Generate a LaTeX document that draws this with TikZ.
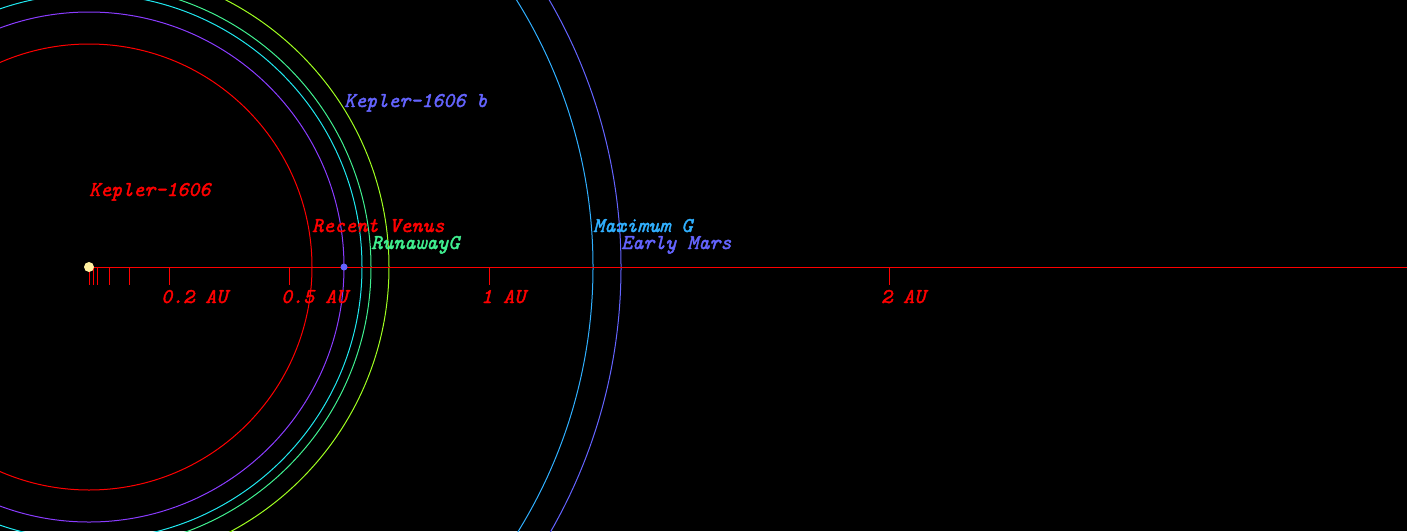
\documentclass[tikz,border=0pt]{standalone}
\usepackage{fontspec}
\newfontfamily\lblfont{lmmono10-regular.otf}[ItalicFont=lmmono10-italic.otf, ItalicFeatures={FakeBold=1.8}]
\definecolor{cRed}{HTML}{FF0000}
\definecolor{cPurple}{HTML}{8A3CFF}
\definecolor{cCyan}{HTML}{20E8F0}
\definecolor{cGreen}{HTML}{40F090}
\definecolor{cLime}{HTML}{A0FF20}
\definecolor{cMaxG}{HTML}{30B0FF}
\definecolor{cMars}{HTML}{6464FF}
\definecolor{cStar}{HTML}{FFF0A0}
\begin{document}
\begin{tikzpicture}[x=1pt,y=-1pt,
  lbl/.style={anchor=base west, inner sep=0pt, text height=0.62em, text depth=0pt, font=\lblfont\itshape\fontsize{21}{21}\selectfont},
  orbit/.style={line width=1pt},
  tick/.style={draw=cRed, line width=1pt},
  axislbl/.style={lbl, text=cRed}]
\useasboundingbox (0,0) rectangle (1407,531);
\fill[black] (0,0) rectangle (1407,531);
\begin{scope}
  \clip (0,0) rectangle (1407,531);
  \draw[orbit, cRed]    (89,267) circle[radius=223pt];
  \draw[orbit, cPurple] (89,267) circle[radius=255pt];
  \draw[orbit, cCyan]   (89,267) circle[radius=273pt];
  \draw[orbit, cGreen]  (89,267) circle[radius=282pt];
  \draw[orbit, cLime]   (89,267) circle[radius=300pt];
  \draw[orbit, cMaxG]   (89,267) circle[radius=504pt];
  \draw[orbit, cMars]   (89,267) circle[radius=532pt];
\end{scope}
% axis
\coordinate (axend) at (1407,267);
\coordinate (t0) at (89,267);
\draw[cRed, line width=0.8pt] (t0) -- (axend);
\foreach \x/\n in {89/a,93/b,97/c,109/d,129/e,169/f,289/g,489/h,889/i} {
  \coordinate (tk\n) at (\x,267);
  \coordinate (tb\n) at (\x,285);
  \draw[tick] (tk\n) -- (tb\n);
}
\node[axislbl] (l02) at (161,303) {0.2 AU};
\node[axislbl] (l05) at (281,303) {0.5 AU};
\node[axislbl] (l1) at (481,303) {1 AU};
\node[axislbl] (l2) at (881,303) {2 AU};
% star and planet
\node[circle, fill=cStar, inner sep=0pt, minimum size=10pt] (star) at (89,267) {};
\node[circle, fill=cMars, inner sep=0pt, minimum size=7pt] (planet) at (344,267) {};
% labels
\node[lbl, text=cRed] (starlbl) at (89,196) {Kepler-1606};
\node[lbl, text=cMars] (planetlbl) at (344,107) {Kepler-1606 b};
\node[lbl, text=cRed] (rv) at (312,232) {Recent Venus};
\node[lbl, text=cGreen] (rg) at (371,249) {RunawayG};
\node[lbl, text=cMaxG] (mg) at (593,232) {Maximum G};
\node[lbl, text=cMars] (em) at (621,249) {Early Mars};
\end{tikzpicture}
\end{document}
